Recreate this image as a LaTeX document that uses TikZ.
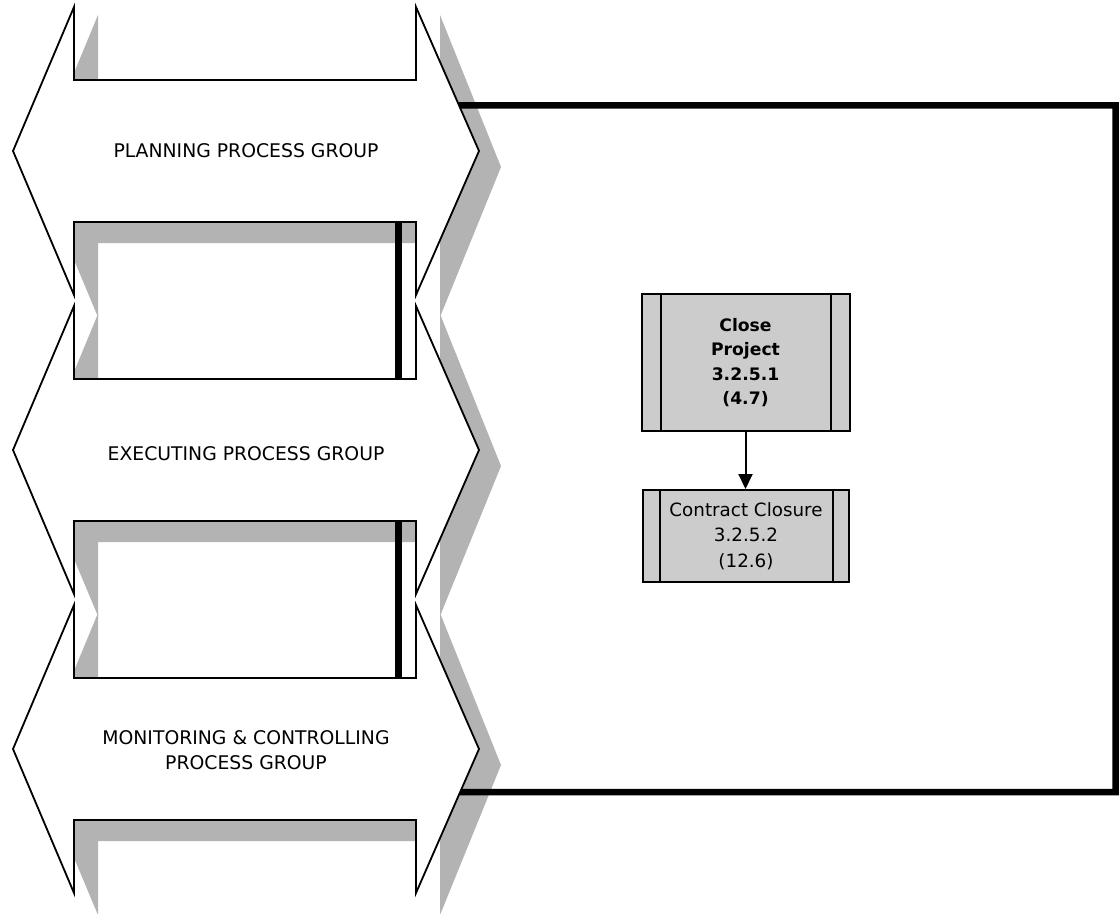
\documentclass[tikz,border=0pt]{standalone}
\usepackage{fontspec}
\setmainfont{DejaVu Sans}
\usetikzlibrary{arrows.meta,calc}
\definecolor{shadowgray}{RGB}{179,179,179}
\definecolor{boxgray}{RGB}{204,204,204}
% shadow of a process-group double arrow, #1 = centre y
\newcommand\pgshadow[1]{%
  \fill[shadowgray] (98,#1-136) -- (98,#1-50) -- (440,#1-50) -- (440,#1-136)
    -- (501,#1+16) -- (440,#1+166) -- (440,#1+92) -- (98,#1+92)
    -- (98,#1+166) -- (35,#1+16) -- cycle;}
% outline of a process-group double arrow, #1 = centre y
\newcommand\pgarrow[1]{%
  \draw[arrowshape] (74,#1-144) -- (74,#1-71) -- (416,#1-71) -- (416,#1-144)
    -- (479,#1) -- (416,#1+144) -- (416,#1+71) -- (74,#1+71)
    -- (74,#1+144) -- (13,#1) -- cycle;}
\begin{document}
\begin{tikzpicture}[x=1pt,y=-1pt,
  arrowshape/.style={draw=black,fill=white,line width=1.8pt,line join=miter},
  grouplabel/.style={font=\fontsize{18.8}{25}\selectfont,align=center,inner sep=0pt},
  procbox/.style={draw=black,fill=boxgray,line width=2pt,inner sep=0pt,align=center},
  thickbar/.style={line width=7pt},
  bigframe/.style={line width=6.5pt,line join=miter},
  sideline/.style={line width=2pt},
  flowarrow/.style={line width=2pt,-{Triangle[width=14pt,length=15pt]}}]
\useasboundingbox (0,0) rectangle (1119,913);
\fill[white] (0,0) rectangle (1119,913);

% shadows
\pgshadow{151}
\pgshadow{450}
\pgshadow{749}

% big frame
\coordinate (ftop) at ($(416,7)!0.684!(479,151)$);
\coordinate (fbot) at ($(479,749)!0.2986!(416,893)$);
\draw[bigframe] (ftop) -| (1115.5,792) -- (fbot);

% arrows
\pgarrow{151}
\pgarrow{450}
\pgarrow{749}

% black bars
\draw[thickbar] (398,222) -- (398,378);
\draw[thickbar] (398,521) -- (398,678);

% labels
\node[grouplabel] (plan) at (246,151) {PLANNING PROCESS GROUP};
\node[grouplabel] (exec) at (246,454) {EXECUTING PROCESS GROUP};
\node[grouplabel] (moni) at (246,750) {MONITORING \& CONTROLLING\\PROCESS GROUP};

% process boxes
\node[procbox,minimum width=208pt,minimum height=137pt,
      font=\bfseries\fontsize{17.2}{24.3}\selectfont] (close) at (745.5,362.5)
      {Close\\Project\\3.2.5.1\\(4.7)};
\draw[sideline] ([xshift=20pt]close.north west) -- ([xshift=20pt]close.south west);
\draw[sideline] ([xshift=-20pt]close.north east) -- ([xshift=-20pt]close.south east);

\node[procbox,minimum width=206pt,minimum height=92pt,
      font=\fontsize{18.3}{25.5}\selectfont] (closure) at (746,536)
      {Contract Closure\\3.2.5.2\\(12.6)};
\draw[sideline] ([xshift=18pt]closure.north west) -- ([xshift=18pt]closure.south west);
\draw[sideline] ([xshift=-17pt]closure.north east) -- ([xshift=-17pt]closure.south east);

\draw[flowarrow] (close.south) -- (close.south |- closure.north);
\end{tikzpicture}
\end{document}
